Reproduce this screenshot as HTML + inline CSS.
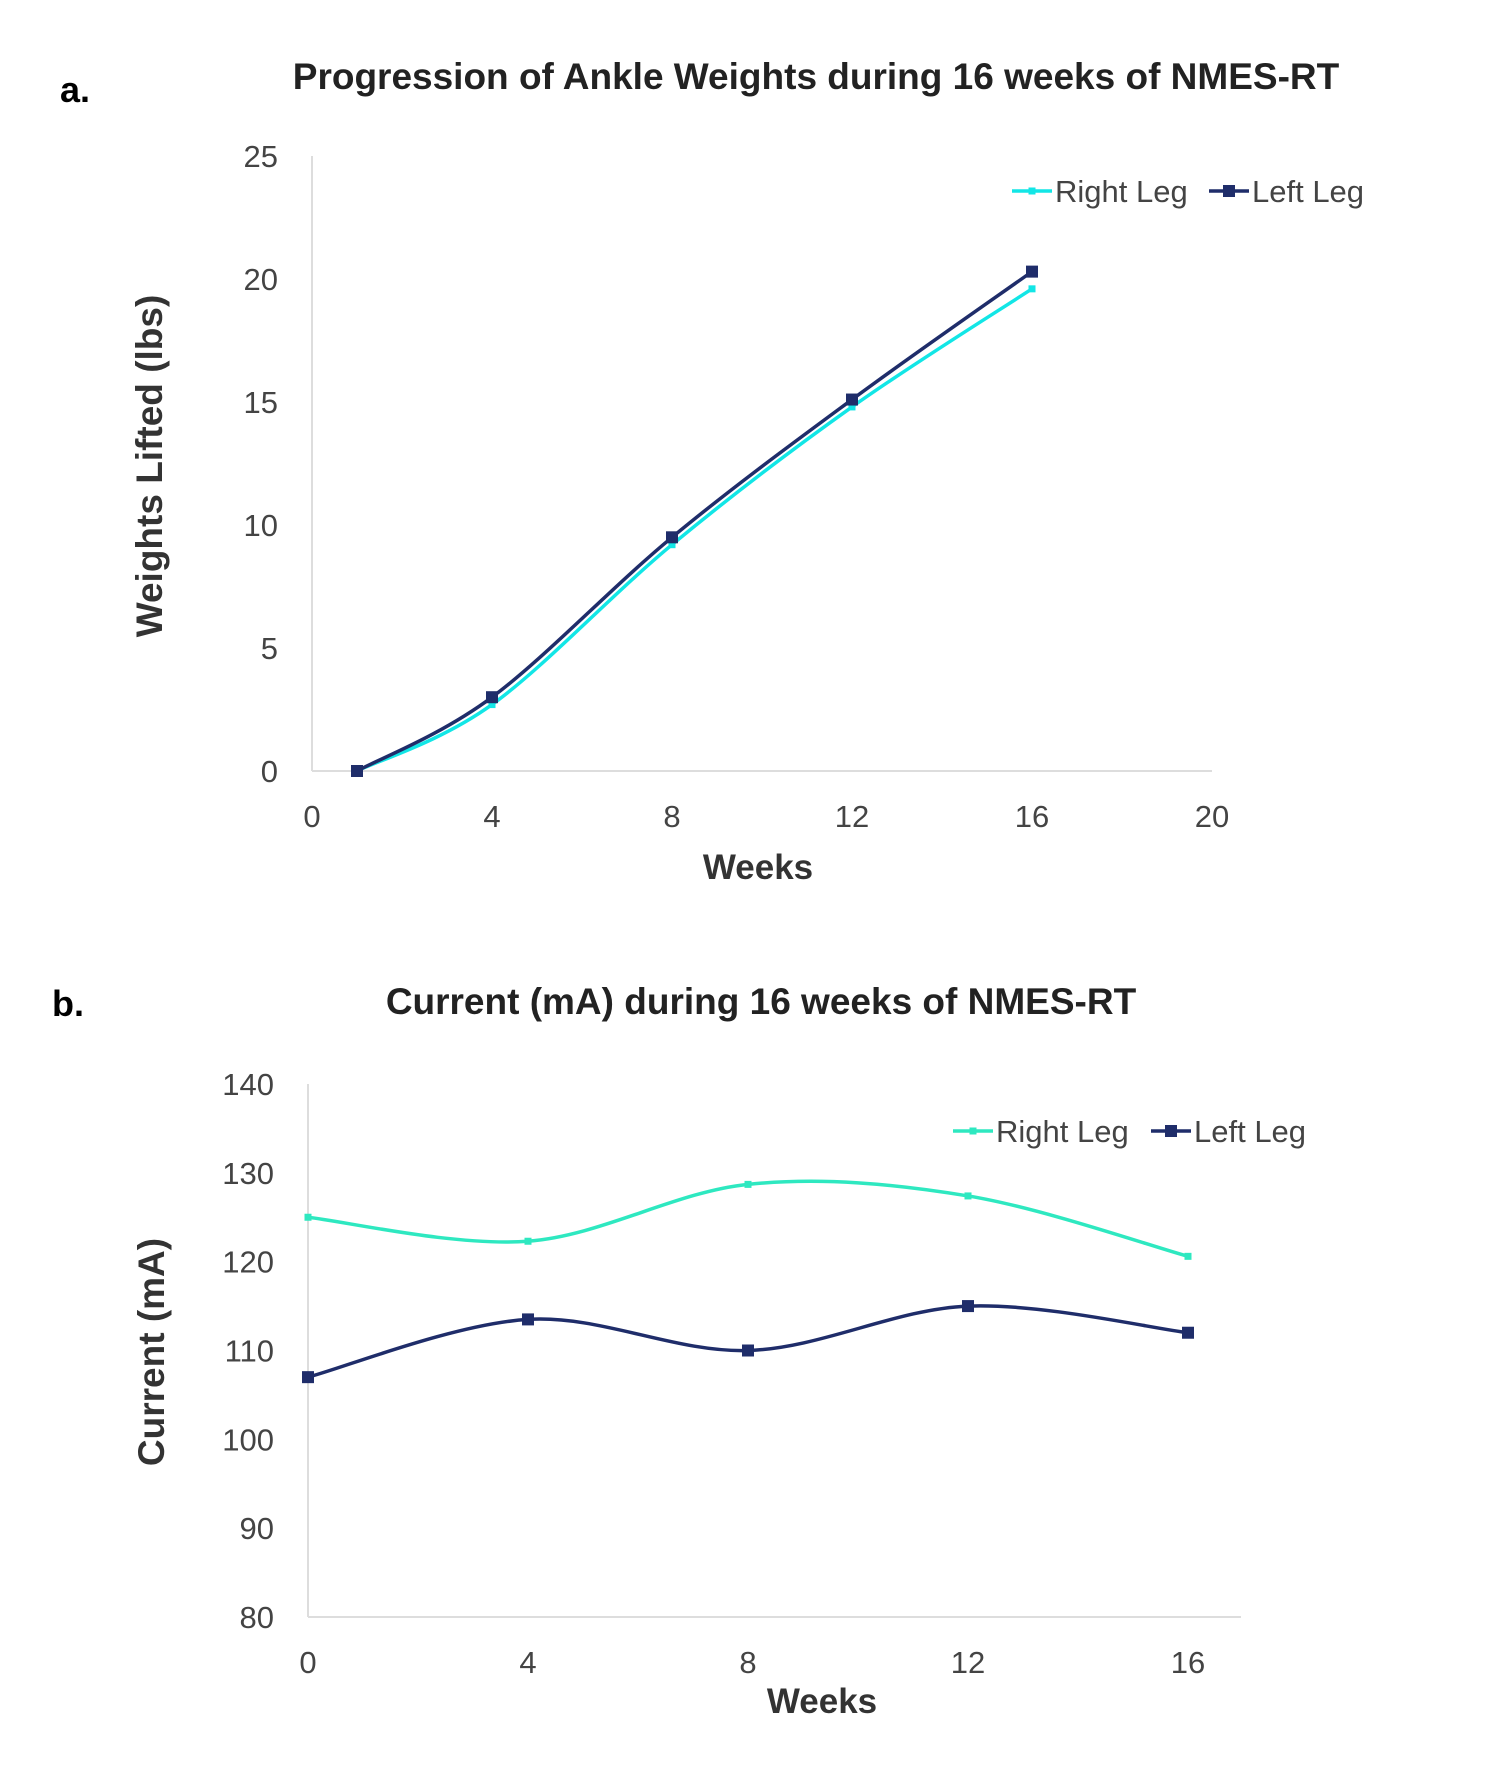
<!DOCTYPE html>
<html><head><meta charset="utf-8"><style>
body{margin:0;background:#fff;}
svg{display:block;font-family:"Liberation Sans",sans-serif;}
</style></head><body>
<svg id="svg" width="1500" height="1785" viewBox="0 0 1500 1785">
<text x="60" y="102" font-size="36" font-weight="bold">a.</text>
<text x="816" y="89" font-size="37" font-weight="bold" text-anchor="middle" fill="#222">Progression of Ankle Weights during 16 weeks of NMES-RT</text>
<text x="52" y="1016" font-size="36" font-weight="bold">b.</text>
<text x="761" y="1014" font-size="37" font-weight="bold" text-anchor="middle" fill="#222">Current (mA) during 16 weeks of NMES-RT</text>
<g id="ga"></g>
<g id="gb"></g>
</svg>
<script>
const aWeeks=[1,4,8,12,16];
const aRight=[0,2.7,9.2,14.8,19.6];
const aLeft=[0,3.0,9.5,15.1,20.3];
const aYTicks=[0,5,10,15,20,25];
const aXTicks=[0,4,8,12,16,20];
const bWeeks=[0,4,8,12,16];
const bRight=[125,122.3,128.7,127.4,120.6];
const bLeft=[107,113.5,110,115,112];
const bYTicks=[80,90,100,110,120,130,140];
const bXTicks=[0,4,8,12,16];
const NS="http://www.w3.org/2000/svg";
function mk(p,tag,at){const e=document.createElementNS(NS,tag);for(const k in at)e.setAttribute(k,at[k]);p.appendChild(e);return e;}
function smooth(pts){let d="M"+pts[0][0]+","+pts[0][1];for(let i=0;i<pts.length-1;i++){const p0=pts[i-1]||pts[i],p1=pts[i],p2=pts[i+1],p3=pts[i+2]||p2;const c1=[p1[0]+(p2[0]-p0[0])/6,p1[1]+(p2[1]-p0[1])/6],c2=[p2[0]-(p3[0]-p1[0])/6,p2[1]-(p3[1]-p1[1])/6];d+=" C"+c1+" "+c2+" "+p2;}return d;}
function chart(g,cfg){
const X=v=>cfg.x0+(v-cfg.xmin)/(cfg.xmax-cfg.xmin)*(cfg.x1-cfg.x0);
const Y=v=>cfg.y0+(v-cfg.ymin)/(cfg.ymax-cfg.ymin)*(cfg.y1-cfg.y0);
let e=mk(g,"line",{x1:cfg.x0,y1:cfg.y1,x2:cfg.x0,y2:cfg.y0,stroke:"#ddd","stroke-width":2});

e=mk(g,"line",{x1:cfg.x0,y1:cfg.y0,x2:cfg.xend,y2:cfg.y0,stroke:"#ddd","stroke-width":2});

cfg.yt.forEach(v=>{const t=mk(g,"text",{x:cfg.x0-34,y:Y(v)+11,"font-size":31,"text-anchor":"end",fill:"#444"});t.textContent=v;
});
cfg.xt.forEach(v=>{const t=mk(g,"text",{x:X(v),y:cfg.xty,"font-size":31,"text-anchor":"middle",fill:"#444"});t.textContent=v;
});
let t=mk(g,"text",{x:cfg.wx,y:cfg.wy,"font-size":35,"font-weight":"bold","text-anchor":"middle",fill:"#333"});t.textContent="Weeks";

t=mk(g,"text",{x:0,y:0,"font-size":37,"font-weight":"bold","text-anchor":"middle",fill:"#333",transform:`translate(${cfg.ytx},${cfg.yty}) rotate(-90)`});t.textContent=cfg.ytitle;

[[cfg.right,cfg.rc,"right-leg"],[cfg.left,cfg.lc,"left-leg"]].forEach(([vals,c,nm])=>{
const pts=cfg.xs.map((w,i)=>[X(w),Y(vals[i])]);
const p=mk(g,"path",{d:smooth(pts),fill:"none",stroke:c,"stroke-width":3.5});

pts.forEach(q=>{const s=nm=="left-leg"?12:7;const r=mk(g,"rect",{x:q[0]-s/2,y:q[1]-s/2,width:s,height:s,fill:c});
});
});
[[cfg.lg[0],cfg.rc,"Right Leg","legend-right-leg",7],[cfg.lg[1],cfg.lc,"Left Leg","legend-left-leg",12]].forEach(([lx,c,txt,nm,s])=>{
const gg=mk(g,"g",{});
mk(gg,"line",{x1:lx,y1:cfg.ly,x2:lx+40,y2:cfg.ly,stroke:c,"stroke-width":3.5});
mk(gg,"rect",{x:lx+20-s/2,y:cfg.ly-s/2,width:s,height:s,fill:c});
const tt=mk(gg,"text",{x:lx+43,y:cfg.ly+11,"font-size":31,fill:"#444"});tt.textContent=txt;});
}
chart(document.getElementById("ga"),{x0:312,x1:1212,xend:1212,xmin:0,xmax:20,y0:771,y1:156,ymin:0,ymax:25,
yt:aYTicks,xt:aXTicks,xs:aWeeks,right:aRight,left:aLeft,xty:827,wx:758,wy:879,ytx:162,yty:466,ytitle:"Weights Lifted (lbs)",
rc:"#12e6e6",lc:"#1f2d6a",lg:[1012,1209],ly:191});
chart(document.getElementById("gb"),{x0:308,x1:1188,xend:1241,xmin:0,xmax:16,y0:1617,y1:1084,ymin:80,ymax:140,
yt:bYTicks,xt:bXTicks,xs:bWeeks,right:bRight,left:bLeft,xty:1673,wx:822,wy:1713,ytx:164,yty:1352,ytitle:"Current (mA)",
rc:"#2ee8c0",lc:"#1f2d6a",lg:[953,1151],ly:1131});
</script>
</body></html>
